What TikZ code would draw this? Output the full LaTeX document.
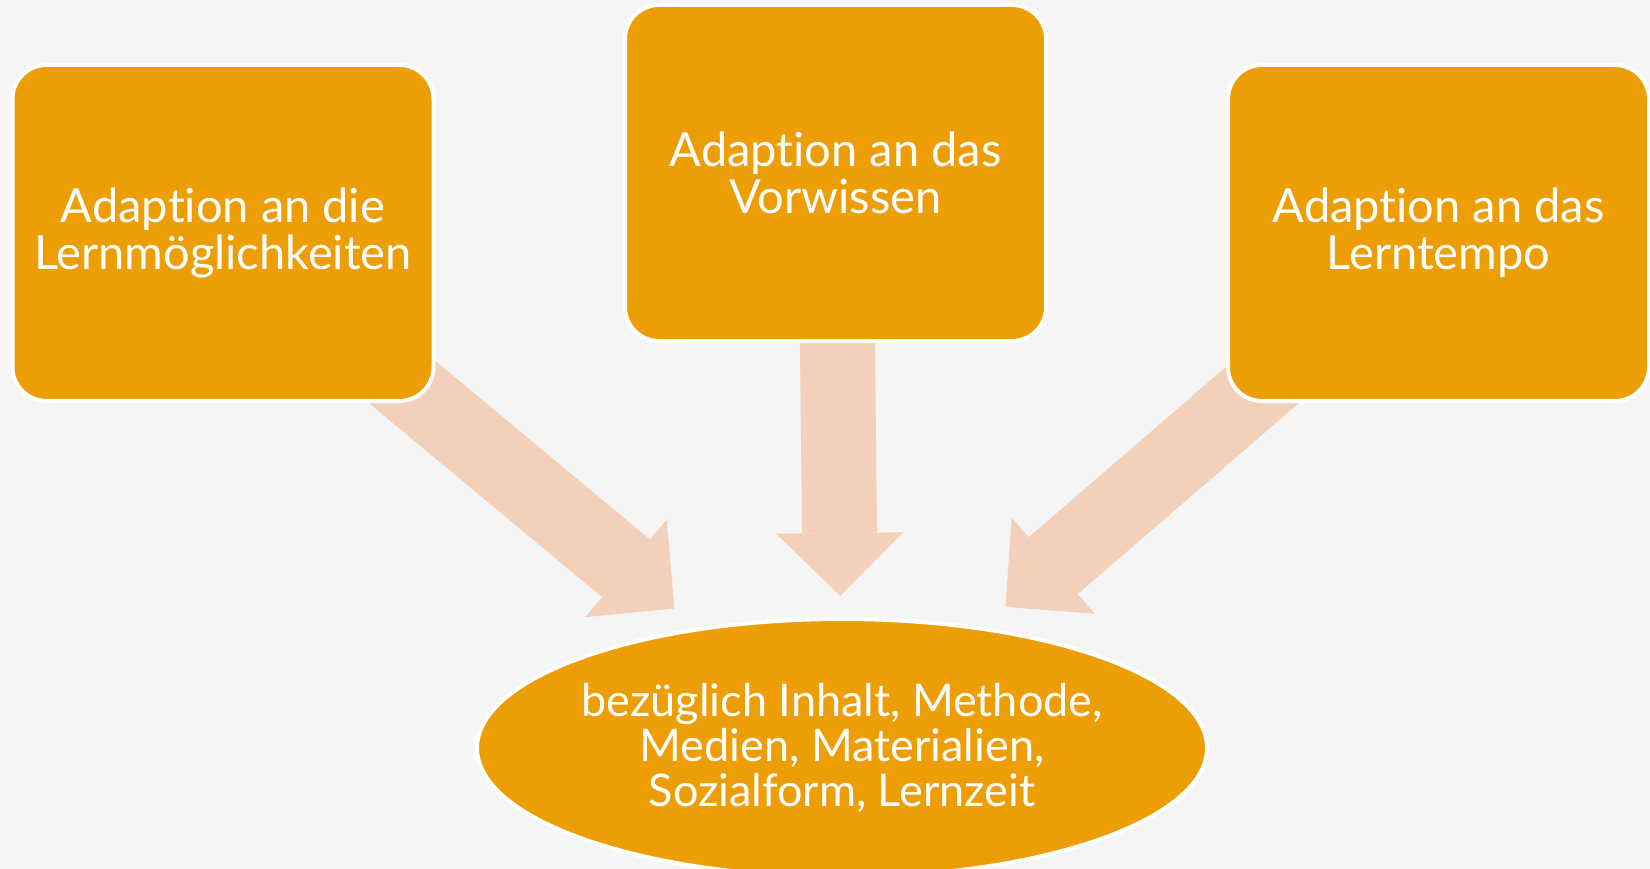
\documentclass[tikz,border=0pt]{standalone}
\usepackage{fontspec}
\setmainfont{Lato}[Ligatures=NoCommon]
\usetikzlibrary{arrows.meta,backgrounds,shapes.geometric}
\definecolor{boxorange}{RGB}{237,158,4}
\definecolor{arrowpeach}{RGB}{243,208,185}
\definecolor{canvas}{RGB}{245,245,245}
\tikzset{
  adaptbox/.style={draw=white, line width=4pt, fill=boxorange, rounded corners=34pt,
    minimum width=421pt, minimum height=336pt, text=white, align=center,
    font=\fontsize{47}{47}\selectfont},
  focusoval/.style={ellipse, draw=white, line width=4pt, fill=boxorange, inner sep=0pt,
    inner xsep=-12pt, minimum width=730pt, minimum height=258pt, text=white, align=center,
    font=\fontsize{45}{45}\selectfont},
  blockarrow/.style={draw=arrowpeach, line width=75pt,
    -{Triangle[width=127pt, length=63pt, line width=0pt, fill=arrowpeach]}}
}
\begin{document}
\begin{tikzpicture}[x=1pt,y=-1pt]
      \useasboundingbox (0,0) rectangle (1650,869);
      \node[adaptbox] (lernmoeglich) at (223,233) {Adaption an die\\Lernmöglichkeiten};
      \node[adaptbox] (vorwissen) at (835.5,173) {Adaption an das\\Vorwissen};
      \node[adaptbox] (lerntempo) at (1438.5,233) {Adaption an das\\Lerntempo};
      \node[focusoval] (bezug) at (842,748) {bezüglich Inhalt, Methode,\\Medien, Materialien,\\Sozialform, Lernzeit};
      \begin{scope}[on background layer]
        \fill[canvas] (0,0) rectangle (1650,869);
        \draw[blockarrow, shorten >=218pt] (lernmoeglich.center) to (bezug.center);
        \draw[blockarrow, shorten >=152pt] (vorwissen.center) to (bezug.center);
        \draw[blockarrow, shorten >=216pt] (lerntempo.center) to (bezug.center);
      \end{scope}
    \end{tikzpicture}
\end{document}
